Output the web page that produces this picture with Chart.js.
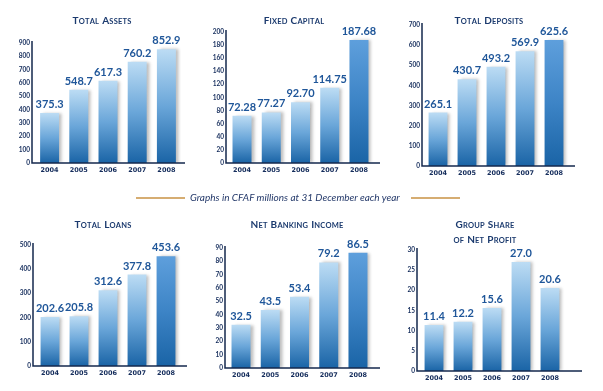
<!DOCTYPE html>
<html>
<head>
<meta charset="utf-8">
<script src="https://cdn.jsdelivr.net/npm/chart.js@4/dist/chart.umd.min.js"></script>
<style>
  body { margin:0; background:#fff; }
  #wrap { position:relative; width:603px; height:391px; overflow:hidden; }
  canvas { position:absolute; }
  #caption { position:absolute; left:0; top:190px; width:603px; height:16px;
    font:italic 10px Lato, sans-serif; color:#24396a; }
  #caption span { position:absolute; left:190px; top:1px; white-space:nowrap; }
  .rule { position:absolute; top:7px; height:2px; background:#d6ad72; }
</style>
</head>
<body>
<div id="wrap">
  <canvas id="c0"></canvas><canvas id="c1"></canvas><canvas id="c2"></canvas>
  <canvas id="c3"></canvas><canvas id="c4"></canvas><canvas id="c5"></canvas>
  <div id="caption">
    <div class="rule" style="left:136px;width:49px"></div>
    <span>Graphs in CFAF millions at 31 December each year</span>
    <div class="rule" style="left:411px;width:49px"></div>
  </div>
</div>
<script>
const years = ['2004', '2005', '2006', '2007', '2008'];

const totalAssets   = [375.3, 548.7, 617.3, 760.2, 852.9];
const fixedCapital  = [72.28, 77.27, 92.70, 114.75, 187.68];
const totalDeposits = [265.1, 430.7, 493.2, 569.9, 625.6];
const totalLoans    = [202.6, 205.8, 312.6, 377.8, 453.6];
const bankingIncome = [32.5, 43.5, 53.4, 79.2, 86.5];
const netProfit     = [11.4, 12.2, 15.6, 27.0, 20.6];

const titles = [['Total Assets'], ['Fixed Capital'], ['Total Deposits'],
                ['Total Loans'], ['Net Banking Income'], ['Group Share', 'of Net Profit']];
const series = [totalAssets, fixedCapital, totalDeposits, totalLoans, bankingIncome, netProfit];
const decimals = [1, 2, 1, 1, 1, 1];
const axisMax  = [900, 200, 700, 500, 90, 30];
const axisStep = [100, 20, 100, 100, 10, 5];

// canvas boxes + chart area inside each canvas (layout only)
const boxes = [
  {x:0,   y:0,   w:200, h:185, l:35,   r:181,   t:43, b:163, axis:32, xEnd:185, tx:102, ty:20, darkLast:false},
  {x:200, y:0,   w:200, h:185, l:27.4, r:173.6, t:32, b:163, axis:26, xEnd:180, tx:94,  ty:20, darkLast:true},
  {x:400, y:0,   w:203, h:185, l:23.5, r:168.5, t:25, b:166, axis:22, xEnd:175, tx:89,  ty:20, darkLast:true},
  {x:0,   y:200, w:200, h:191, l:35.5, r:180.5, t:45, b:166, axis:33, xEnd:187, tx:103, ty:24, darkLast:true},
  {x:200, y:200, w:200, h:191, l:26.4, r:172.6, t:48, b:168, axis:25, xEnd:180, tx:97,  ty:24, darkLast:true},
  {x:400, y:200, w:203, h:191, l:19.5, r:164.5, t:50, b:171, axis:17, xEnd:182, tx:85,  ty:24, darkLast:false},
];

const navy = '#152d5c';
const FONT = 'Lato, "Open Sans", sans-serif';
const HEAVY = '"DejaVu Sans", sans-serif';

// draws title in small caps by hand
function smallCaps(ctx, text, cx, cy, big, small) {
  const parts = [];
  let width = 0;
  for (const ch of text) {
    const isBig = ch === ch.toUpperCase() && ch !== ' ';
    const size = isBig ? big : small;
    ctx.font = `bold ${size}px ${FONT}`;
    const s = ch.toUpperCase();
    const w = ch === ' ' ? big * 0.3 : ctx.measureText(s).width + 0.2;
    parts.push({s, size, w});
    width += w;
  }
  let x = cx - width / 2;
  ctx.textAlign = 'left';
  ctx.textBaseline = 'alphabetic';
  for (const p of parts) {
    ctx.font = `bold ${p.size}px ${FONT}`;
    ctx.fillText(p.s, x, cy);
    x += p.w;
  }
}

const extras = {
  id: 'extras',
  beforeDatasetsDraw(chart) {
    const ctx = chart.ctx;
    ctx.save();
    ctx.shadowColor = 'rgba(70,70,70,0.35)';
    ctx.shadowOffsetX = 3;
    ctx.shadowOffsetY = 0;
    ctx.shadowBlur = 3;
  },
  afterDatasetsDraw(chart) {
    chart.ctx.restore();
  },
  afterDraw(chart) {
    const ctx = chart.ctx;
    const o = chart.options.plugins.extras;
    const box = o.box;
    const area = chart.chartArea;
    ctx.save();
    // axis lines
    ctx.strokeStyle = '#15284d';
    ctx.lineWidth = 1.5;
    ctx.beginPath();
    ctx.moveTo(box.axis, area.top - 2);
    ctx.lineTo(box.axis, area.bottom);
    ctx.lineTo(box.xEnd, area.bottom);
    ctx.stroke();
    // title
    ctx.fillStyle = '#1b3a6e';
    o.title.forEach((line, i) => smallCaps(ctx, line, box.tx, box.ty + 4 + i * 15, 10, 7.5));
    // value labels
    const meta = chart.getDatasetMeta(0);
    ctx.fillStyle = '#1f5699';
    ctx.font = `bold 11px ${FONT}`;
    ctx.textAlign = 'center';
    ctx.textBaseline = 'alphabetic';
    meta.data.forEach((bar, i) => {
      const v = chart.data.datasets[0].data[i];
      ctx.fillText(v.toFixed(o.decimals), bar.x, bar.y - 5);
    });
    ctx.restore();
  }
};

series.forEach((values, k) => {
  const box = boxes[k];
  const cv = document.getElementById('c' + k);
  cv.width = box.w; cv.height = box.h;
  cv.style.left = box.x + 'px'; cv.style.top = box.y + 'px';
  cv.style.width = box.w + 'px'; cv.style.height = box.h + 'px';

  new Chart(cv, {
    type: 'bar',
    data: {
      labels: years,
      datasets: [{
        data: values,
        barPercentage: 0.65,
        categoryPercentage: 1,
        backgroundColor: (c) => {
          const chart = c.chart;
          const area = chart.chartArea;
          if (!area || c.type !== 'data') return '#5a9bd5';
          const yTop = chart.scales.y.getPixelForValue(c.raw);
          const g = chart.ctx.createLinearGradient(0, yTop, 0, area.bottom);
          const last = box.darkLast && c.dataIndex === 4;
          g.addColorStop(0, last ? '#5e9fdc' : '#bcdcf4');
          g.addColorStop(0.5, last ? '#3d84c6' : '#6aa6d9');
          g.addColorStop(1, '#1a64a6');
          return g;
        },
        borderWidth: 0
      }]
    },
    options: {
      responsive: false,
      animation: false,
      layout: { padding: { left: 0, top: box.t, right: box.w - box.r, bottom: 0 } },
      plugins: {
        legend: { display: false },
        tooltip: { enabled: false },
        extras: { box: box, title: titles[k], decimals: decimals[k] }
      },
      scales: {
        x: {
          grid: { display: false, drawTicks: false },
          border: { display: false },
          ticks: { color: navy, font: { family: HEAVY, size: 6.5, weight: 'bold' }, padding: 3 },
          afterFit: (s) => { s.height = box.h - box.b; }
        },
        y: {
          min: 0,
          max: axisMax[k],
          grid: { display: false, drawTicks: false },
          border: { display: false },
          ticks: {
            stepSize: axisStep[k],
            color: navy,
            font: { family: FONT, size: 6.5, weight: 'bold' },
            padding: box.l - box.axis + 2
          },
          afterFit: (s) => { s.width = box.l; }
        }
      }
    },
    plugins: [extras]
  });
});
</script>
</body>
</html>
